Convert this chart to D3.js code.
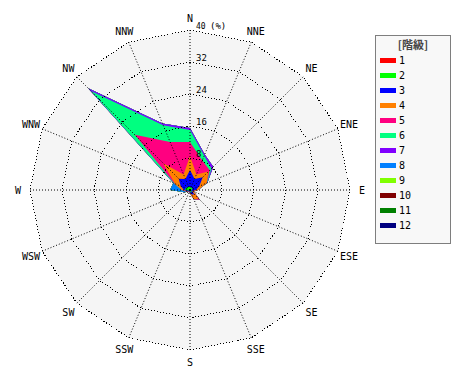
<!DOCTYPE html>
<html><head><meta charset="utf-8">
<script src="https://cdn.jsdelivr.net/npm/d3@7"></script>
<style>body{margin:0;background:#fff}svg{display:block}</style>
</head><body>
<svg id="c" width="470" height="380"></svg>
<script>
const directions = ["N","NNE","NE","ENE","E","ESE","SE","SSE","S","SSW","SW","WSW","W","WNW","NW","NNW"];
const classes = ["1","2","3","4","5","6","7","8","9","10","11","12"];
const colors = ["#ff0000","#00ff00","#0000ff","#ff8000","#ff0080","#00ff80","#8000ff","#0080ff","#80ff00","#800000","#008000","#000080"];
const ringTicks = [8,16,24,32,40];
// frequency (%) per direction for each class
const class1  = [0.3,0.2,0.3,0.3,0.2,0.1,0.3,0.4,0.2,0.1,0.1,0.1,0.2,0.2,0.3,0.3];
const class2  = [0.5,0.4,0.5,0.3,0.3,0.2,0.3,0.3,0.2,0.2,0.2,0.3,1.0,1.0,0.7,0.5];
const class3  = [4.2,2.4,3.7,1.9,1.0,0.3,0.9,0.5,0.2,0.1,0.2,0.4,0.3,1.3,3.0,2.2];
const class4  = [3.5,1.2,2.0,2.0,0.5,0.4,1.5,1.3,0.2,0.1,0.1,0.2,0.5,1.5,5.5,1.2];
const class5  = [3.5,3.8,0.5,0.0,0.0,0.0,0.5,0.0,0.0,0.0,0.0,0.0,0.0,0.2,10.0,8.8];
const class6  = [3.0,1.3,0.6,0.1,0.0,0.0,0.0,0.0,0.0,0.0,0.0,0.0,0.2,0.2,15.5,4.5];
const class7  = [0.5,0.3,0.6,0.1,0.0,0.0,0.0,0.0,0.0,0.0,0.0,0.0,0.0,0.1,1.0,0.5];
const class8  = [0,0,0,0,0,0,0,0,0,0,0,0.5,2.8,0,0,0];
const class9  = [0,0,0,0,0,0,0,0,0,0,0,0,0,0,0,0];
const class10 = [0,0,0,0,0,0,0,0,0,0,0,0,0,0,0,0];
const class11 = [0,0,0,0,0,0,0,0,0,0,0,0,0,0,0,0];
const class12 = [0,0,0,0,0,0,0,0,0,0,0,0,0,0,0,0];
const series = [class1,class2,class3,class4,class5,class6,class7,class8,class9,class10,class11,class12];

const svg = d3.select("#c");
const cx = 190, cy = 190;
const r = d3.scaleLinear().domain([0,40]).range([0,160]);
const ang = d3.scaleLinear().domain([0,directions.length]).range([0,2*Math.PI]);
const g = svg.append("g").attr("transform",`translate(${cx},${cy})`);

const rows = directions.map((d,i)=>{const o={dir:d,i:i}; classes.forEach((c,k)=>o[c]=series[k][i]); return o;});
const stack = d3.stack().keys(classes)(rows);

const ringLine = d3.lineRadial().angle((d,i)=>ang(i)).radius(d=>d).curve(d3.curveLinearClosed);
// background
g.append("path").attr("d", ringLine(directions.map(()=>r(40)))).attr("fill","#f5f5f5");

const area = d3.lineRadial().angle(d=>ang(d.data.i)).radius(d=>r(d[1])).curve(d3.curveLinearClosed);
for (let k = stack.length-1; k>=0; k--) {
  g.append("path").attr("d", area(stack[k])).attr("fill", colors[k]).attr("stroke","none");
}

// grid
const dash = "1,2";
ringTicks.forEach(t=>{
  g.append("path").attr("d", ringLine(directions.map(()=>r(t)))).attr("fill","none")
   .attr("stroke","#000").attr("stroke-dasharray",dash).attr("shape-rendering","crispEdges");
});
directions.forEach((d,i)=>{
  const a = ang(i);
  g.append("line").attr("x1",0).attr("y1",0)
   .attr("x2", r(40)*Math.sin(a)).attr("y2", -r(40)*Math.cos(a))
   .attr("stroke","#000").attr("stroke-dasharray",dash);
  g.append("text").attr("x", 172*Math.sin(a)).attr("y", -172*Math.cos(a)+4)
   .attr("text-anchor","middle").attr("font-family","DejaVu Sans Mono").attr("font-size",10)
   .attr("fill","#000").text(d);
});
ringTicks.forEach(t=>{
  g.append("text").attr("x",6).attr("y",-r(t)-1).attr("font-family","DejaVu Sans Mono")
   .attr("font-size", t===40?8:9).attr("fill","#000").text(t);
});
g.append("text").attr("x",20).attr("y",-r(40)-1).attr("font-family","DejaVu Sans Mono")
 .attr("font-size",9).attr("fill","#000").text("(%)");

// legend
const lg = svg.append("g");
lg.append("rect").attr("x",375.5).attr("y",35.5).attr("width",75).attr("height",208)
  .attr("fill","#f8f8f8").attr("stroke","#000").attr("stroke-dasharray","1,1");
lg.append("text").attr("x",413).attr("y",49).attr("text-anchor","middle")
  .attr("font-family","'Noto Sans CJK JP'").attr("font-size",11).attr("font-weight","bold").attr("fill","#444").text("[階級]");
classes.forEach((c,k)=>{
  const y = 60 + k*15;
  lg.append("rect").attr("x",380).attr("y",y-2).attr("width",16).attr("height",5).attr("fill",colors[k]);
  lg.append("text").attr("x",399).attr("y",y+4).attr("font-family","DejaVu Sans Mono").attr("font-size",10).attr("fill","#000").text(c);
});
</script>
</body></html>
